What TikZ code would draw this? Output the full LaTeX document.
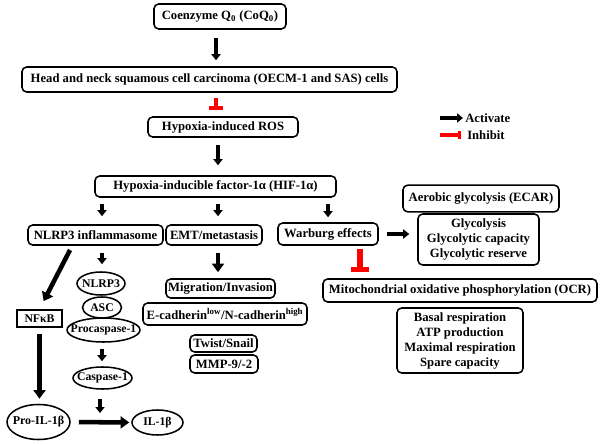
\documentclass[tikz,border=0pt]{standalone}
\usepackage{fontspec}
\setmainfont{Liberation Serif}
\usetikzlibrary{arrows.meta,shapes.geometric}
\begin{document}
\begin{tikzpicture}[x=0.75pt,y=-0.75pt,
  every node/.style={font=\fontsize{9.5}{11.25}\selectfont\bfseries, inner sep=0pt, align=center},
  rbox/.style={draw, line width=1.15pt, rounded corners=3.5pt},
  sbox/.style={draw, line width=1.15pt},
  ell/.style={draw, ellipse, line width=1.15pt, inner xsep=-30pt, inner ysep=-12pt, font=\fontsize{8.8}{10}\selectfont\bfseries},
  arr/.style={line width=2.3pt, -{Triangle[length=4.5pt,width=6.8pt]}},
  bigarr/.style={line width=3.4pt, -{Triangle[length=6.5pt,width=9pt]}},
  inh/.style={red, line width=3pt, -{Rectangle[length=3pt,width=11pt]}},
  biginh/.style={red, line width=3.8pt, -{Rectangle[length=3.8pt,width=13.5pt]}}
]
\useasboundingbox (0,0) rectangle (600,445);

% boxes
\node[rbox, minimum width=99pt, minimum height=18.75pt] (coq) at (220,16.5) {Coenzyme Q\textsubscript{0} (CoQ\textsubscript{0})};
\node[rbox, minimum width=281.25pt, minimum height=18.75pt] (hn) at (209.5,79.5) {Head and neck squamous cell carcinoma (OECM-1 and SAS) cells};
\node[rbox, minimum width=112.5pt, minimum height=15pt] (ros) at (223,127) {Hypoxia-induced ROS};
\node[rbox, minimum width=180.75pt, minimum height=15.75pt] (hif) at (215.5,186.5) {Hypoxia-inducible factor-1α (HIF-1α)};
\node[rbox, minimum width=101.25pt, minimum height=15pt] (nlrpinf) at (95.5,235) {NLRP3 inflammasome};
\node[rbox, minimum width=72pt, minimum height=15pt] (emt) at (214,235) {EMT/metastasis};
\node[rbox, minimum width=75pt, minimum height=16.5pt] (warb) at (328,234) {Warburg effects};
\node[rbox, minimum width=117pt, minimum height=20pt] (aer) at (481,198.5) {Aerobic glycolysis (ECAR)};
\node[rbox, minimum width=90.75pt, minimum height=38.25pt] (gly) at (478.5,239.5) {Glycolysis\\Glycolytic capacity\\Glycolytic reserve};
\node[rbox, minimum width=205.5pt, minimum height=17.25pt] (mito) at (460,290.5) {Mitochondrial oxidative phosphorylation (OCR)};
\node[rbox, minimum width=94.5pt, minimum height=48.75pt] (basal) at (460,340.5) {Basal respiration\\ATP production\\Maximal respiration\\Spare capacity};
\node[sbox, minimum width=33.75pt, minimum height=12.75pt, font=\fontsize{8.8}{10}\selectfont\bfseries] (nfkb) at (39.5,318.5) {NFκB};
\node[ell, minimum width=47.25pt, minimum height=26.25pt, font=\fontsize{9}{10}\selectfont\bfseries] (proil) at (38.5,422) {Pro-IL-1β};
\node[ell, minimum width=36pt, minimum height=17.25pt] (nlrp3) at (101,283.5) {NLRP3};
\node[ell, minimum width=29.25pt, minimum height=15.75pt] (asc) at (102,307.5) {ASC};
\node[ell, minimum width=54.75pt, minimum height=18pt] (procasp) at (103.5,330) {Procaspase-1};
\node[ell, minimum width=44.25pt, minimum height=16.5pt] (casp) at (102.5,378) {Caspase-1};
\node[ell, minimum width=38.25pt, minimum height=18.75pt] (il) at (157.5,422.5) {IL-1β};
\node[rbox, minimum width=81.75pt, minimum height=14.25pt] (mig) at (220.5,288.5) {Migration/Invasion};
\node[rbox, minimum width=123pt, minimum height=16.5pt] (ecad) at (225,314) {E-cadherin\textsuperscript{low}/N-cadherin\textsuperscript{high}};
\node[rbox, minimum width=50.25pt, minimum height=12.75pt] (twist) at (223.5,343.5) {Twist/Snail};
\node[rbox, minimum width=51pt, minimum height=13.5pt] (mmp) at (224,364) {MMP-9/-2};

% helper coordinates
\coordinate (xa) at (216,0);
\coordinate (xb) at (218,0);
\coordinate (xl) at (102,0);
\coordinate (xc) at (100,0);
\coordinate (xw) at (328,0);
\coordinate (xi) at (360,0);
\coordinate (jn) at (100,413);
\coordinate (dstart) at (70,250);

% connectors
\draw[arr, shorten <=6pt, shorten >=4.5pt] (xa |- coq.south) -- (xa |- hn.north);
\draw[inh, shorten <=3.75pt, shorten >=4.5pt] (xa |- hn.south) -- (xa |- ros.north);
\draw[arr, shorten <=5.25pt, shorten >=7.5pt] (xb |- ros.south) -- (xb |- hif.north);
\draw[arr, shorten <=4.5pt, shorten >=6pt] (xl |- hif.south) -- (xl |- nlrpinf.north);
\draw[arr, shorten <=4.5pt, shorten >=6pt] (xb |- hif.south) -- (xb |- emt.north);
\draw[arr, shorten <=4.5pt, shorten >=3.75pt] (xw |- hif.south) -- (xw |- warb.north);
\draw[arr, shorten <=5.25pt, shorten >=5.25pt] (xl |- nlrpinf.south) -- (xl |- nlrp3.north);
\draw[arr, shorten <=4.5pt, shorten >=3.75pt] (xl |- procasp.south) -- (xl |- casp.north);
\draw[arr, shorten <=6.75pt] (xc |- casp.south) -- (jn);
\draw[bigarr, shorten <=6pt, shorten >=1.5pt] (proil.east) -- (il.west);
\draw[bigarr, shorten >=6.75pt] (dstart) -- (nfkb.north);
\draw[bigarr, shorten <=4.5pt, shorten >=3.75pt] (nfkb.south) -- (nfkb.south |- proil.north);
\draw[bigarr, shorten <=5.25pt, shorten >=4.5pt] (xb |- emt.south) -- (xb |- mig.north);
\draw[arr, shorten <=6pt, shorten >=6pt] (warb.east) -- (warb.east -| gly.west);
\draw[biginh, shorten <=2.25pt, shorten >=4.5pt] (xi |- warb.south) -- (xi |- mito.north);

% legend
\coordinate (la1) at (440,118);
\coordinate (la2) at (463,118);
\coordinate (li1) at (440,135);
\coordinate (li2) at (461,135);
\draw[arr] (la1) -- (la2);
\draw[red, line width=3pt, -{Rectangle[length=2.5pt,width=6pt]}] (li1) -- (li2);
\node[anchor=west] (lact) at (465,118) {Activate};
\node[anchor=west] (linh) at (467,135) {Inhibit};
\end{tikzpicture}
\end{document}
